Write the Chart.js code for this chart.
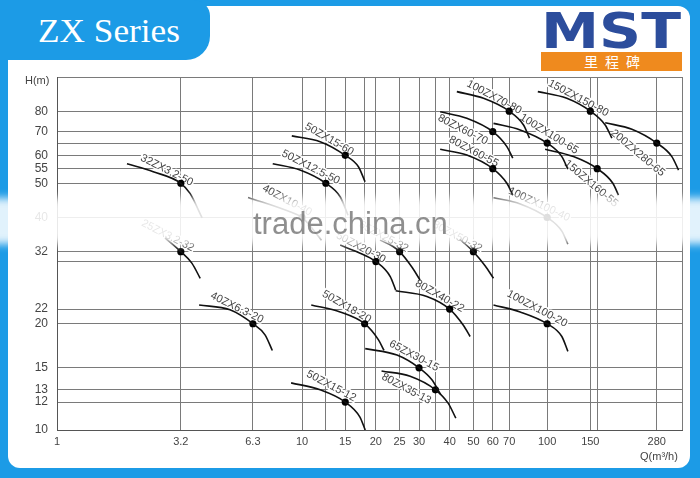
<!DOCTYPE html>
<html>
<head>
<meta charset="utf-8">
<script src="https://cdn.jsdelivr.net/npm/chart.js@4.4.1/dist/chart.umd.min.js"></script>
<style>
  html, body { margin: 0; padding: 0; }
  body { width: 700px; height: 478px; background: #1c9be6; position: relative; overflow: hidden; font-family: "Liberation Sans", Arial, sans-serif; }
  #panel { position: absolute; left: 8px; top: 6px; width: 682px; height: 462px; background: #fff; border-radius: 12px; }
  #tab { position: absolute; left: 0; top: 0; width: 210px; height: 60px; background: #1c9be6; border-radius: 0 16px 24px 0; }
  #tab svg, #logo { position: absolute; }
  #logo { left: 540px; top: 10px; }
  #chart { position: absolute; left: 0; top: 0; }
  .axis-title { position: absolute; font-size: 11px; color: #444; }
  #fog { position: absolute; left: -10px; top: 198px; width: 720px; height: 46px; background: rgba(255,255,255,0.87); filter: blur(4px); }
  #mark { position: absolute; left: 253px; top: 206px; font: 31px "Liberation Sans", Arial, sans-serif; color: rgba(115,115,115,0.8); }
</style>
</head>
<body>
<div id="panel"></div>
<div id="tab">
  <svg width="210" height="60"><text x="38" y="42" font-family="Liberation Serif, DejaVu Serif, serif" font-size="33" fill="#fff" textLength="142" lengthAdjust="spacingAndGlyphs">ZX Series</text></svg>
</div>
<svg id="logo" width="145" height="64">
  <text x="1" y="38" font-family="DejaVu Sans, sans-serif" font-weight="bold" font-size="49" fill="#2c4d9c" textLength="140" lengthAdjust="spacingAndGlyphs">MST</text>
  <rect x="1" y="42" width="141" height="19" fill="#ef8a1e"/>
  <text x="72" y="57" text-anchor="middle" font-family="Noto Sans CJK SC, sans-serif" font-size="14" fill="#fff">里&#8194;程&#8194;碑</text>
</svg>
<canvas id="chart" width="700" height="478"></canvas>
<div class="axis-title" style="left:25px; top:74px;">H(m)</div>
<div class="axis-title" style="left:640px; top:450px;">Q(m³/h)</div>
<div id="fog"></div>
<div id="mark">trade.china.cn</div>
<script>
// grid lines and tick labels (empty string = line without label)
const xGrid = [1, 3.2, 6.3, 10, 12.5, 15, 18, 20, 25, 30, 35, 40, 50, 60, 70, 100, 150, 160, 280, 355];
const xTickLabels = ['1', '3.2', '6.3', '10', '', '15', '', '20', '25', '30', '', '40', '50', '60', '70', '100', '150', '', '280', ''];
const yGrid = [10, 12, 13, 15, 20, 22, 30, 32, 40, 50, 55, 60, 65, 70, 80, 100];
const yTickLabels = ['10', '12', '13', '15', '20', '22', '', '32', '40', '50', '55', '60', '', '70', '80', ''];

// pump models and rated points
const models = ['32ZX3.2-50', '25ZX3.2-32', '40ZX6.3-20', '40ZX10-40', '50ZX15-60', '50ZX12.5-50',
  '50ZX20-30', '65ZX25-32', '80ZX40-22', '80ZX50-32', '100ZX100-20', '50ZX18-20', '65ZX30-15',
  '80ZX35-13', '50ZX15-12', '100ZX70-80', '80ZX60-70', '80ZX60-55', '100ZX100-65', '150ZX160-55',
  '150ZX150-80', '200ZX280-65', '100ZX100-40'];
const ratedQ = [3.2, 3.2, 6.3, 10, 15, 12.5, 20, 25, 40, 50, 100, 18, 30, 35, 15, 70, 60, 60, 100, 160, 150, 280, 100];
const ratedH = [50, 32, 20, 40, 60, 50, 30, 32, 22, 32, 20, 20, 15, 13, 12, 80, 70, 55, 65, 55, 80, 65, 40];

// Q-H curve points
const curveQ = [
  [1.93, 2.47, 3.2, 3.49, 3.91],
  [2.76, 3.2, 3.55, 3.84],
  [3.80, 5.08, 6.3, 7.06, 7.56],
  [6.02, 8.93, 10, 12.0],
  [9.08, 11.85, 15, 16.98, 18.07],
  [7.59, 9.81, 12.5, 14.3, 15.4],
  [14.3, 16.9, 20, 22.9, 24.1],
  [20.8, 23.5, 25, 28.0, 30.3],
  [24.1, 32.3, 40, 45.5, 48.5],
  [44.0, 50, 55.8, 60.4],
  [60.4, 77.6, 100, 114.8, 121.5],
  [10.9, 14.3, 18, 20.5, 21.6],
  [18.1, 24.4, 30, 33.8, 36.8],
  [21.1, 27.6, 35, 39.5, 42.4],
  [9.02, 11.85, 15, 17.2, 18.1],
  [42.8, 55.0, 70, 80.1, 84.7],
  [36.6, 47.0, 60, 68.5, 72.4],
  [36.6, 47.0, 60, 68.5, 72.4],
  [60.4, 77.6, 100, 114.8, 121.5],
  [98.1, 128.0, 160, 185.4, 195.4],
  [91.6, 120.3, 150, 172.5, 183.7],
  [172.5, 221.7, 280, 322.8, 343.6],
  [60.4, 77.6, 100, 114.8, 121.5]
];
const curveH = [
  [56.8, 53.9, 50, 46.8, 39.9],
  [35.0, 32, 29.7, 26.9],
  [22.6, 21.9, 20, 18.6, 16.8],
  [45.6, 41.5, 40, 34.5],
  [68.1, 65.6, 60, 55.7, 50.5],
  [56.8, 54.5, 50, 45.8, 40.6],
  [33.4, 31.9, 30, 27.2, 24.9],
  [34.5, 33.1, 32, 29.0, 26.6],
  [24.8, 23.9, 22, 19.8, 18.4],
  [34.7, 32, 29.2, 26.9],
  [22.6, 21.6, 20, 18.4, 16.7],
  [22.6, 21.6, 20, 18.0, 16.8],
  [17.0, 16.3, 15, 13.9, 12.6],
  [14.7, 14.2, 13, 11.9, 10.8],
  [13.6, 13.0, 12, 10.9, 10.0],
  [90.9, 87.0, 80, 73.1, 67.1],
  [79.7, 76.4, 70, 63.5, 58.9],
  [62.4, 60.1, 55, 50.0, 46.3],
  [73.9, 70.8, 65, 59.5, 54.8],
  [62.4, 59.5, 55, 50.0, 46.3],
  [90.9, 87.0, 80, 73.1, 67.1],
  [74.2, 71.1, 65, 59.5, 54.5],
  [45.5, 43.7, 40, 36.6, 33.6]
];

// label placement relative to the rated point (pixels, degrees)
const labelDx = [-14, -13, -16, -15, -16, -15, -15, -16, -10, -16, -10, -18, -5, -29, -14, -15, -30, -19, 2, -6, -12, -19, -8];
const labelDy = [-13, -16, -16, -17, -16, -16, -14, -15, -13, -15, -15, -17, -12, -1, -16, -14, -2, -17, -9, 15, -13, 10, -13];
const labelAngle = [27, 27, 26, 28, 30, 27, 28, 28, 30, 28, 28, 30, 28, 28, 28, 28, 27, 28, 32, 40, 28, 40, 25];

const curveSets = models.map((m, i) => ({
  label: m,
  data: curveQ[i].map((q, j) => ({ x: q, y: curveH[i][j] })),
  showLine: true,
  borderColor: '#111',
  borderWidth: 1.6,
  pointRadius: 0,
  cubicInterpolationMode: 'monotone',
  fill: false
}));

const ratedSet = {
  label: 'rated',
  data: models.map((m, i) => ({ x: ratedQ[i], y: ratedH[i] })),
  pointRadius: 3.6,
  backgroundColor: '#000',
  borderWidth: 0,
  showLine: false
};

const pumpLabels = {
  id: 'pumpLabels',
  beforeDatasetsDraw(chart) {
    const { ctx, scales: { x, y } } = chart;
    ctx.save();
    ctx.font = '11px "Liberation Sans", Arial, sans-serif';
    ctx.textAlign = 'center';
    ctx.textBaseline = 'middle';
    models.forEach((m, i) => {
      const px = x.getPixelForValue(ratedQ[i]) + labelDx[i];
      const py = y.getPixelForValue(ratedH[i]) + labelDy[i];
      ctx.save();
      ctx.translate(px, py);
      ctx.rotate(labelAngle[i] * Math.PI / 180);
      ctx.lineWidth = 3;
      ctx.strokeStyle = '#fff';
      ctx.strokeText(m, 0, 0);
      ctx.fillStyle = '#444';
      ctx.fillText(m, 0, 0);
      ctx.restore();
    });
    ctx.restore();
  }
};

new Chart(document.getElementById('chart'), {
  type: 'scatter',
  data: { datasets: [...curveSets, ratedSet] },
  options: {
    responsive: false,
    animation: false,
    layout: { padding: { left: 0, right: 18, top: 77, bottom: 0 } },
    plugins: { legend: { display: false }, tooltip: { enabled: false } },
    scales: {
      x: {
        type: 'logarithmic',
        min: 1,
        max: 355,
        bounds: 'data',
        afterBuildTicks: s => { s.ticks = xGrid.map(v => ({ value: v })); },
        afterFit: s => { s.height = 48; },
        grid: { color: '#7a7a7a', lineWidth: 1, drawTicks: false },
        border: { color: '#555' },
        ticks: {
          autoSkip: false, maxRotation: 0, padding: 5,
          color: '#444', font: { size: 11, family: '"Liberation Sans", Arial, sans-serif' },
          callback: (v, i) => xTickLabels[i]
        }
      },
      y: {
        type: 'logarithmic',
        min: 10,
        max: 100,
        bounds: 'data',
        afterBuildTicks: s => { s.ticks = yGrid.map(v => ({ value: v })); },
        afterFit: s => { s.width = 57; },
        grid: { color: '#7a7a7a', lineWidth: 1, drawTicks: false },
        border: { color: '#555' },
        ticks: {
          autoSkip: false, padding: 9,
          color: '#444', font: { size: 12, family: '"Liberation Sans", Arial, sans-serif' },
          callback: (v, i) => yTickLabels[i]
        }
      }
    }
  },
  plugins: [pumpLabels]
});
</script>
</body>
</html>
